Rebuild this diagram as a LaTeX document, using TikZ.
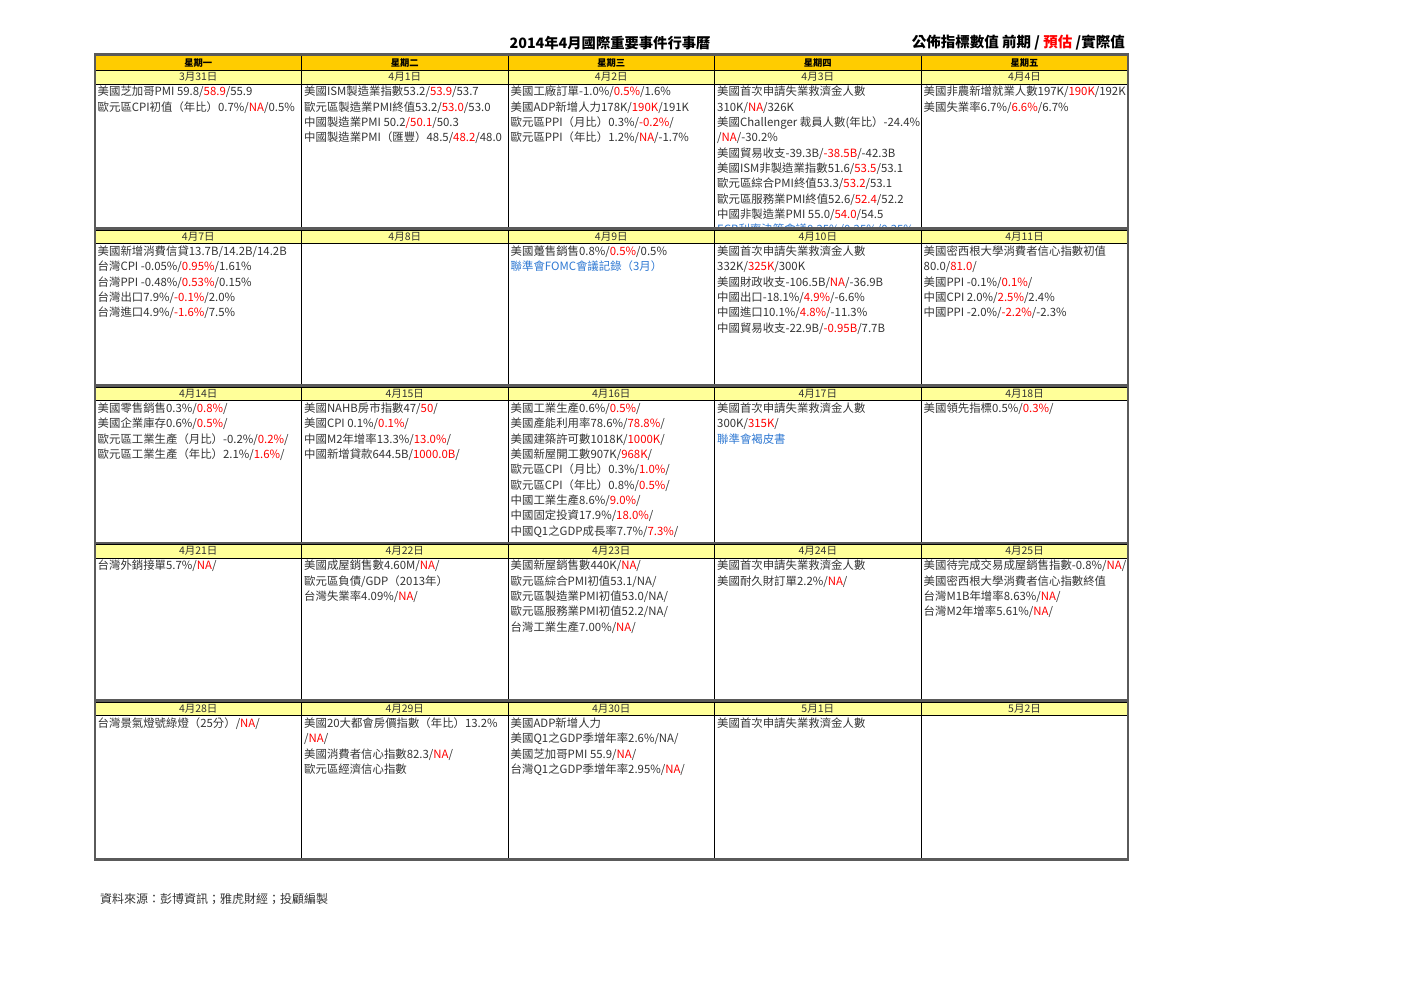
\documentclass[tikz,border=0pt]{standalone}
\usepackage{fontspec}
\setmainfont{Noto Sans CJK TC}
\definecolor{hdrorange}{HTML}{FFCC00}
\definecolor{dateyellow}{HTML}{FFFF99}
\definecolor{txtgray}{HTML}{333333}
\definecolor{fcred}{HTML}{FF0000}
\definecolor{evblue}{HTML}{2E78D2}
\definecolor{sepgray}{HTML}{5A5A5A}
\newcommand{\fc}[1]{\textcolor{fcred}{#1}}
\newcommand{\ev}[1]{\textcolor{evblue}{#1}}
\begin{document}
\begin{tikzpicture}[x=1pt, y=-1pt,
  cell/.style={anchor=north west, inner sep=0pt, align=left, text=txtgray, font=\fontsize{11.4}{15.33}\selectfont},
  daylabel/.style={inner sep=0pt, text=txtgray, font=\fontsize{10.5}{12}\selectfont},
  weeklabel/.style={inner sep=0pt, text=black, font=\fontsize{9.3}{11}\selectfont\bfseries},
  sepline/.style={sepgray, line width=2.5pt},
  gridline/.style={black, line width=0.8pt}]
	\useasboundingbox (0,0) rectangle (1403,992);
	
	% titles
	\node[inner sep=0pt, font=\fontsize{14.3}{16}\selectfont\bfseries] (title) at (610,43) {2014年4月國際重要事件行事曆};
	\node[inner sep=0pt, anchor=east, font=\fontsize{14.5}{16}\selectfont\bfseries] (legend) at (1125,43) {公佈指標數值 前期 / \fc{預估} /實際值};
	
	% week 1
	\node[cell] (c0331) at (97.5,85) {\strut 美國芝加哥PMI 59.8/\fc{58.9}/55.9\\歐元區CPI初值（年比）0.7\%/\fc{NA}/0.5\%};
	\node[cell] (c0401) at (304,85) {\strut 美國ISM製造業指數53.2/\fc{53.9}/53.7\\歐元區製造業PMI終值53.2/\fc{53.0}/53.0\\中國製造業PMI 50.2\fc{/50.1}/50.3\\中國製造業PMI（匯豐）48.5/\fc{48.2}/48.0};
	\node[cell] (c0402) at (510.5,85) {\strut 美國工廠訂單-1.0\%/\fc{0.5\%}/1.6\%\\美國ADP新增人力178K/\fc{190K}/191K\\歐元區PPI（月比）0.3\%/\fc{-0.2\%}/\\歐元區PPI（年比）1.2\%/\fc{NA}/-1.7\%};
	\begin{scope}
		\clip (714.5,84) rectangle (921,227.5);
		\node[cell] (c0403) at (717,85) {\strut 美國首次申請失業救濟金人數\\310K/\fc{NA}/326K\\美國Challenger 裁員人數(年比）-24.4\%\\/\fc{NA}/-30.2\%\\美國貿易收支-39.3B/\fc{-38.5B}/-42.3B\\美國ISM非製造業指數51.6/\fc{53.5}/53.1\\歐元區綜合PMI終值53.3/\fc{53.2}/53.1\\歐元區服務業PMI終值52.6/\fc{52.4}/52.2\\中國非製造業PMI 55.0/\fc{54.0}/54.5\\\ev{ECB利率決策會議0.25\%/0.25\%/0.25\%}};
	\end{scope}
	\node[cell] (c0404) at (923.5,85) {\strut 美國非農新增就業人數197K/\fc{190K}/192K\\美國失業率6.7\%/\fc{6.6\%}/6.7\%};
	
	% week 2
	\node[cell] (c0407) at (97.5,244.5) {\strut 美國新增消費信貸13.7B/14.2B/14.2B\\台灣CPI -0.05\%/\fc{0.95\%}/1.61\%\\台灣PPI -0.48\%/\fc{0.53\%}/0.15\%\\台灣出口7.9\%/\fc{-0.1\%}/2.0\%\\台灣進口4.9\%/\fc{-1.6\%}/7.5\%};
	\node[cell] (c0409) at (510.5,244.5) {\strut 美國躉售銷售0.8\%/\fc{0.5\%}/0.5\%\\\ev{聯準會FOMC會議記錄（3月）}};
	\node[cell] (c0410) at (717,244.5) {\strut 美國首次申請失業救濟金人數\\332K/\fc{325K}/300K\\美國財政收支-106.5B/\fc{NA}/-36.9B\\中國出口-18.1\%/\fc{4.9\%}/-6.6\%\\中國進口10.1\%/\fc{4.8\%}/-11.3\%\\中國貿易收支-22.9B/\fc{-0.95B}/7.7B};
	\node[cell] (c0411) at (923.5,244.5) {\strut 美國密西根大學消費者信心指數初值\\80.0/\fc{81.0}/\\美國PPI -0.1\%/\fc{0.1\%}/\\中國CPI 2.0\%/\fc{2.5\%}/2.4\%\\中國PPI -2.0\%/\fc{-2.2\%}/-2.3\%};
	
	% week 3
	\node[cell] (c0414) at (97.5,401.5) {\strut 美國零售銷售0.3\%/\fc{0.8\%}/\\美國企業庫存0.6\%/\fc{0.5\%}/\\歐元區工業生產（月比）-0.2\%/\fc{0.2\%}/\\歐元區工業生產（年比）2.1\%/\fc{1.6\%}/};
	\node[cell] (c0415) at (304,401.5) {\strut 美國NAHB房市指數47/\fc{50}/\\美國CPI 0.1\%/\fc{0.1\%}/\\中國M2年增率13.3\%/\fc{13.0\%}/\\中國新增貸款644.5B/\fc{1000.0B}/};
	\node[cell] (c0416) at (510.5,401.5) {\strut 美國工業生產0.6\%/\fc{0.5\%}/\\美國產能利用率78.6\%/\fc{78.8\%}/\\美國建築許可數1018K/\fc{1000K}/\\美國新屋開工數907K/\fc{968K}/\\歐元區CPI（月比）0.3\%/\fc{1.0\%}/\\歐元區CPI（年比）0.8\%/\fc{0.5\%}/\\中國工業生產8.6\%/\fc{9.0\%}/\\中國固定投資17.9\%/\fc{18.0\%}/\\中國Q1之GDP成長率7.7\%/\fc{7.3\%}/};
	\node[cell] (c0417) at (717,401.5) {\strut 美國首次申請失業救濟金人數\\300K/\fc{315K}/\\\ev{聯準會褐皮書}};
	\node[cell] (c0418) at (923.5,401.5) {\strut 美國領先指標0.5\%/\fc{0.3\%}/};
	
	% week 4
	\node[cell] (c0421) at (97.5,559) {\strut 台灣外銷接單5.7\%/\fc{NA}/};
	\node[cell] (c0422) at (304,559) {\strut 美國成屋銷售數4.60M/\fc{NA}/\\歐元區負債/GDP（2013年）\\台灣失業率4.09\%/\fc{NA}/};
	\node[cell] (c0423) at (510.5,559) {\strut 美國新屋銷售數440K/\fc{NA}/\\歐元區綜合PMI初值53.1/NA/\\歐元區製造業PMI初值53.0/NA/\\歐元區服務業PMI初值52.2/NA/\\台灣工業生產7.00\%/\fc{NA}/};
	\node[cell] (c0424) at (717,559) {\strut 美國首次申請失業救濟金人數\\美國耐久財訂單2.2\%/\fc{NA}/};
	\node[cell] (c0425) at (923.5,559) {\strut 美國待完成交易成屋銷售指數-0.8\%/\fc{NA}/\\美國密西根大學消費者信心指數終值\\台灣M1B年增率8.63\%/\fc{NA}/\\台灣M2年增率5.61\%/\fc{NA}/};
	
	% week 5
	\node[cell] (c0428) at (97.5,716.5) {\strut 台灣景氣燈號綠燈（25分）/\fc{NA}/};
	\node[cell] (c0429) at (304,716.5) {\strut 美國20大都會房價指數（年比）13.2\%\\/\fc{NA}/\\美國消費者信心指數82.3/\fc{NA}/\\歐元區經濟信心指數};
	\node[cell] (c0430) at (510.5,716.5) {\strut 美國ADP新增人力\\美國Q1之GDP季增年率2.6\%/NA/\\美國芝加哥PMI 55.9/\fc{NA}/\\台灣Q1之GDP季增年率2.95\%/\fc{NA}/};
	\node[cell] (c0501) at (717,716.5) {\strut 美國首次申請失業救濟金人數};
	
	% header bands
	\fill[hdrorange] (95,56) rectangle (1128,70.5);
	\fill[dateyellow] (95,70.5) rectangle (1128,84);
	\fill[dateyellow] (95,230) rectangle (1128,243.5);
	\fill[dateyellow] (95,387) rectangle (1128,400.5);
	\fill[dateyellow] (95,544.5) rectangle (1128,558);
	\fill[dateyellow] (95,702) rectangle (1128,715.5);
	
	% grid
	\draw[gridline] (95,70.5) -- (1128,70.5);
	\draw[gridline] (95,84) -- (1128,84);
	\draw[gridline] (95,230) -- (1128,230);
	\draw[gridline] (95,243.5) -- (1128,243.5);
	\draw[gridline] (95,387) -- (1128,387);
	\draw[gridline] (95,400.5) -- (1128,400.5);
	\draw[gridline] (95,544.5) -- (1128,544.5);
	\draw[gridline] (95,558) -- (1128,558);
	\draw[gridline] (95,702) -- (1128,702);
	\draw[gridline] (95,715.5) -- (1128,715.5);
	\draw[gridline] (301.5,55) -- (301.5,859);
	\draw[gridline] (508,55) -- (508,859);
	\draw[gridline] (714.5,55) -- (714.5,859);
	\draw[gridline] (921,55) -- (921,859);
	\draw[sepgray, line width=1.3pt] (95,54) -- (95,860);
	\draw[sepgray, line width=1.3pt] (1128,54) -- (1128,860);
	\draw[sepline] (94.4,54.5) -- (1128.6,54.5);
	\draw[sepline] (94.4,228.5) -- (1128.6,228.5);
	\draw[sepline] (94.4,385.5) -- (1128.6,385.5);
	\draw[sepline] (94.4,543) -- (1128.6,543);
	\draw[sepline] (94.4,700.5) -- (1128.6,700.5);
	\draw[sepline] (94.4,859.5) -- (1128.6,859.5);
	
	% weekdays
	\node[weeklabel] (mon) at (198.25,63.5) {星期一};
	\node[weeklabel] (tue) at (404.75,63.5) {星期二};
	\node[weeklabel] (wed) at (611.25,63.5) {星期三};
	\node[weeklabel] (thu) at (817.75,63.5) {星期四};
	\node[weeklabel] (fri) at (1024.5,63.5) {星期五};
	
	% dates
	\node[daylabel] (h0331) at (198.25,77) {3月31日};
	\node[daylabel] (h0401) at (404.75,77) {4月1日};
	\node[daylabel] (h0402) at (611.25,77) {4月2日};
	\node[daylabel] (h0403) at (817.75,77) {4月3日};
	\node[daylabel] (h0404) at (1024.5,77) {4月4日};
	\node[daylabel] (h0407) at (198.25,236.5) {4月7日};
	\node[daylabel] (h0408) at (404.75,236.5) {4月8日};
	\node[daylabel] (h0409) at (611.25,236.5) {4月9日};
	\node[daylabel] (h0410) at (817.75,236.5) {4月10日};
	\node[daylabel] (h0411) at (1024.5,236.5) {4月11日};
	\node[daylabel] (h0414) at (198.25,393.5) {4月14日};
	\node[daylabel] (h0415) at (404.75,393.5) {4月15日};
	\node[daylabel] (h0416) at (611.25,393.5) {4月16日};
	\node[daylabel] (h0417) at (817.75,393.5) {4月17日};
	\node[daylabel] (h0418) at (1024.5,393.5) {4月18日};
	\node[daylabel] (h0421) at (198.25,551) {4月21日};
	\node[daylabel] (h0422) at (404.75,551) {4月22日};
	\node[daylabel] (h0423) at (611.25,551) {4月23日};
	\node[daylabel] (h0424) at (817.75,551) {4月24日};
	\node[daylabel] (h0425) at (1024.5,551) {4月25日};
	\node[daylabel] (h0428) at (198.25,708.5) {4月28日};
	\node[daylabel] (h0429) at (404.75,708.5) {4月29日};
	\node[daylabel] (h0430) at (611.25,708.5) {4月30日};
	\node[daylabel] (h0501) at (817.75,708.5) {5月1日};
	\node[daylabel] (h0502) at (1024.5,708.5) {5月2日};
	
	% source
	\node[inner sep=0pt, anchor=west, text=txtgray, font=\fontsize{12}{14}\selectfont] (source) at (100,899) {資料來源：彭博資訊；雅虎財經；投顧編製};
\end{tikzpicture}
\end{document}
